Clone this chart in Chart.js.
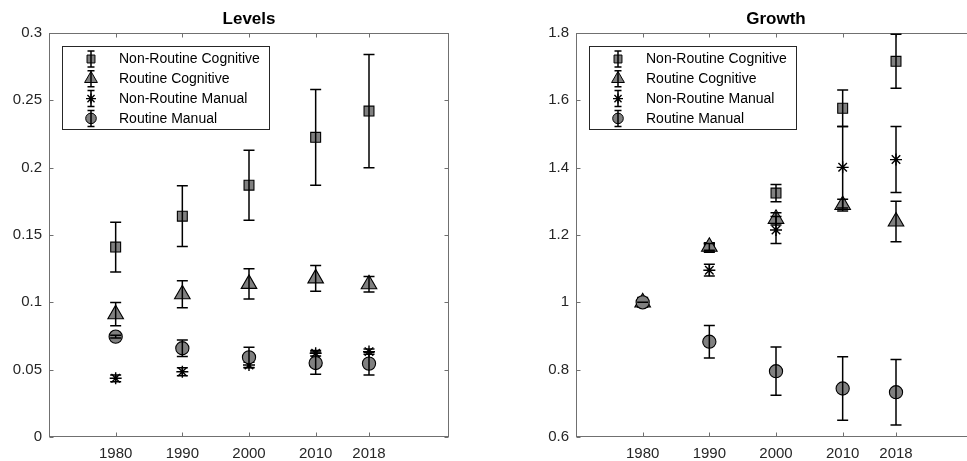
<!DOCTYPE html>
<html>
<head>
<meta charset="utf-8">
<script src="https://cdn.jsdelivr.net/npm/chart.js@4.4.1/dist/chart.umd.min.js"></script>
<style>
html, body { margin: 0; padding: 0; background: #fff; overflow: hidden; }
#wrap { position: relative; width: 967px; height: 461px; overflow: hidden; }
canvas { position: absolute; top: 0; }
#levelsChart { left: 0; }
#growthChart { left: 527px; }
</style>
</head>
<body>
<div id="wrap">
  <canvas id="levelsChart" width="498" height="461"></canvas>
  <canvas id="growthChart" width="498" height="461"></canvas>
</div>
<script>
const years = [1980, 1990, 2000, 2010, 2018];
const seriesLabels = ['Non-Routine Cognitive', 'Routine Cognitive', 'Non-Routine Manual', 'Routine Manual'];

// Levels panel: values and half-width of error bars
const levNRC = [0.141, 0.164, 0.187, 0.2225, 0.242];
const levNRCErr = [0.0185, 0.0225, 0.026, 0.0355, 0.042];
const levRC = [0.0912, 0.106, 0.1137, 0.1178, 0.1134];
const levRCErr = [0.0086, 0.010, 0.0112, 0.0096, 0.0057];
const levNRM = [0.0436, 0.0485, 0.0535, 0.0622, 0.0634];
const levNRMErr = [0.0025, 0.003, 0.002, 0.002, 0.002];
const levRM = [0.0745, 0.0659, 0.0592, 0.0549, 0.0545];
const levRMErr = [0.001, 0.0062, 0.0075, 0.0083, 0.0085];

// Growth panel (relative to 1980)
const grNRC = [1, 1.163, 1.3245, 1.5765, 1.716];
const grNRCErr = [0, 0.012, 0.0255, 0.0545, 0.08];
const grRC = [1, 1.165, 1.248, 1.289, 1.24];
const grRCErr = [0, 0.01, 0.018, 0.0175, 0.06];
const grNRM = [1, 1.0955, 1.215, 1.401, 1.424];
const grNRMErr = [0, 0.0175, 0.04, 0.121, 0.098];
const grRM = [1, 0.883, 0.7955, 0.744, 0.733];
const grRMErr = [0, 0.048, 0.0715, 0.094, 0.097];

const levelTicks = { min: 0, max: 0.3, step: 0.05 };
const growthTicks = { min: 0.6, max: 1.8, step: 0.2 };

const markerStyles = ['rect', 'triangle', 'star', 'circle'];
const markerRadius = [7, 9, 6, 6.6];
const legendRadius = [5.6, 7.4, 5, 5.3];
const FONT = '"Liberation Sans", Arial, Helvetica, sans-serif';
const GRAY = '#808080';

function drawMarker(ctx, style, r, x, y) {
    ctx.beginPath();
    if (style === 'rect') {
        const s = r * Math.SQRT1_2;
        ctx.rect(x - s, y - s, 2 * s, 2 * s);
    } else if (style === 'triangle') {
        ctx.moveTo(x, y - r);
        ctx.lineTo(x + r * 0.866, y + r * 0.5);
        ctx.lineTo(x - r * 0.866, y + r * 0.5);
        ctx.closePath();
    } else if (style === 'circle') {
        ctx.arc(x, y, r, 0, Math.PI * 2);
    }
    if (style === 'star') {
        for (let k = 0; k < 4; k++) {
            const ang = k * Math.PI / 4;
            ctx.moveTo(x - Math.sin(ang) * r, y - Math.cos(ang) * r);
            ctx.lineTo(x + Math.sin(ang) * r, y + Math.cos(ang) * r);
        }
        ctx.stroke();
        return;
    }
    ctx.fill();
    ctx.stroke();
}

// error bars drawn over each series' own markers, like MATLAB errorbar
const errorBars = {
    id: 'errorBars',
    afterDatasetDraw(chart, args) {
        const ds = chart.data.datasets[args.index];
        const yScale = chart.scales.y;
        const ctx = chart.ctx;
        ctx.save();
        ctx.strokeStyle = '#000';
        ctx.lineWidth = 1.5;
        args.meta.data.forEach((pt, i) => {
            const v = ds.data[i].y;
            const lo = yScale.getPixelForValue(v - ds.err[i]);
            const hi = yScale.getPixelForValue(v + ds.err[i]);
            ctx.beginPath();
            ctx.moveTo(pt.x, lo); ctx.lineTo(pt.x, hi);
            ctx.moveTo(pt.x - 5.5, lo); ctx.lineTo(pt.x + 5.5, lo);
            ctx.moveTo(pt.x - 5.5, hi); ctx.lineTo(pt.x + 5.5, hi);
            ctx.stroke();
        });
        ctx.restore();
    }
};

const frame = {
    id: 'frame',
    beforeDatasetsDraw(chart) {
        const ctx = chart.ctx;
        const a = chart.chartArea;
        const xs = chart.scales.x, ys = chart.scales.y;
        const L = Math.round(a.left) + 0.5, R = Math.round(a.right) - 0.5;
        const T = Math.round(a.top) + 0.5, B = Math.round(a.bottom) - 0.5;
        ctx.save();
        ctx.strokeStyle = '#707070';
        ctx.lineWidth = 1;
        ctx.strokeRect(L, T, R - L, B - T);
        ctx.beginPath();
        xs.ticks.forEach(t => {
            const px = Math.round(xs.getPixelForValue(t.value)) + 0.5;
            ctx.moveTo(px, B); ctx.lineTo(px, B - 4);
            ctx.moveTo(px, T); ctx.lineTo(px, T + 4);
        });
        ys.ticks.forEach(t => {
            const py = Math.round(ys.getPixelForValue(t.value)) + 0.5;
            ctx.moveTo(L, py); ctx.lineTo(L + 4, py);
            ctx.moveTo(R, py); ctx.lineTo(R - 4, py);
        });
        ctx.stroke();
        ctx.restore();
    }
};

const boxLegend = {
    id: 'boxLegend',
    afterDatasetsDraw(chart) {
        const ctx = chart.ctx;
        const a = chart.chartArea;
        const bx = Math.round(a.left) + 13, by = Math.round(a.top) + 13;
        const bw = 207, bh = 83;
        ctx.save();
        ctx.fillStyle = '#fff';
        ctx.fillRect(bx, by, bw, bh);
        ctx.strokeStyle = '#262626';
        ctx.lineWidth = 1;
        ctx.strokeRect(bx + 0.5, by + 0.5, bw, bh);
        chart.data.datasets.forEach((ds, i) => {
            const cy = by + 13 + i * 19.8;
            const cx = bx + 29;
            ctx.fillStyle = GRAY;
            ctx.strokeStyle = '#000';
            ctx.lineWidth = ds.pointStyle === 'star' ? 1.4 : 1;
            drawMarker(ctx, ds.pointStyle, legendRadius[i], cx, cy);
            ctx.lineWidth = 1.5;
            ctx.beginPath();
            ctx.moveTo(cx, cy - 8); ctx.lineTo(cx, cy + 8);
            ctx.moveTo(cx - 3.5, cy - 8); ctx.lineTo(cx + 3.5, cy - 8);
            ctx.moveTo(cx - 3.5, cy + 8); ctx.lineTo(cx + 3.5, cy + 8);
            ctx.stroke();
            ctx.fillStyle = '#000';
            ctx.font = '14px ' + FONT;
            ctx.textBaseline = 'middle';
            ctx.textAlign = 'left';
            ctx.fillText(ds.label, bx + 57, cy + 0.5);
        });
        ctx.restore();
    }
};

function makeChart(id, title, yt, values, errors) {
    const datasets = seriesLabels.map((label, i) => ({
        label: label,
        data: years.map((yr, j) => ({ x: yr, y: values[i][j] })),
        err: errors[i],
        showLine: false,
        pointStyle: markerStyles[i],
        pointRadius: markerRadius[i],
        pointHoverRadius: markerRadius[i],
        pointBackgroundColor: GRAY,
        pointBorderColor: '#000',
        pointBorderWidth: markerStyles[i] === 'star' ? 1.4 : 1.1,
        order: 3 - i
    }));
    return new Chart(document.getElementById(id), {
        type: 'scatter',
        data: { datasets: datasets },
        options: {
            responsive: false,
            animation: false,
            devicePixelRatio: 1,
            layout: { padding: 0 },
            plugins: {
                legend: { display: false },
                tooltip: { enabled: false },
                title: {
                    display: true,
                    text: title,
                    color: '#000',
                    font: { size: 17, weight: 'bold', family: FONT },
                    padding: { top: 9.5, bottom: 3.1 }
                }
            },
            scales: {
                x: {
                    type: 'linear',
                    min: 1970,
                    max: 2030,
                    grid: { display: false, drawTicks: false },
                    border: { display: false },
                    afterBuildTicks: s => { s.ticks = years.map(v => ({ value: v })); },
                    afterFit: s => { s.height = 24; },
                    ticks: {
                        color: '#262626',
                        font: { size: 15, family: FONT },
                        padding: 8,
                        maxRotation: 0,
                        autoSkip: false,
                        callback: v => String(v)
                    }
                },
                y: {
                    min: yt.min,
                    max: yt.max,
                    grid: { display: false, drawTicks: false },
                    border: { display: false },
                    afterFit: s => { s.width = 49; },
                    ticks: {
                        stepSize: yt.step,
                        color: '#262626',
                        font: { size: 15, family: FONT },
                        padding: 7,
                        callback: v => String(+(+v).toFixed(2))
                    }
                },
                yPad: {
                    position: 'right',
                    grid: { display: false, drawTicks: false },
                    border: { display: false },
                    ticks: { display: false },
                    afterFit: s => { s.width = 49; }
                }
            }
        },
        plugins: [frame, errorBars, boxLegend]
    });
}

makeChart('levelsChart', 'Levels', levelTicks,
    [levNRC, levRC, levNRM, levRM],
    [levNRCErr, levRCErr, levNRMErr, levRMErr]);

makeChart('growthChart', 'Growth', growthTicks,
    [grNRC, grRC, grNRM, grRM],
    [grNRCErr, grRCErr, grNRMErr, grRMErr]);
</script>
</body>
</html>
